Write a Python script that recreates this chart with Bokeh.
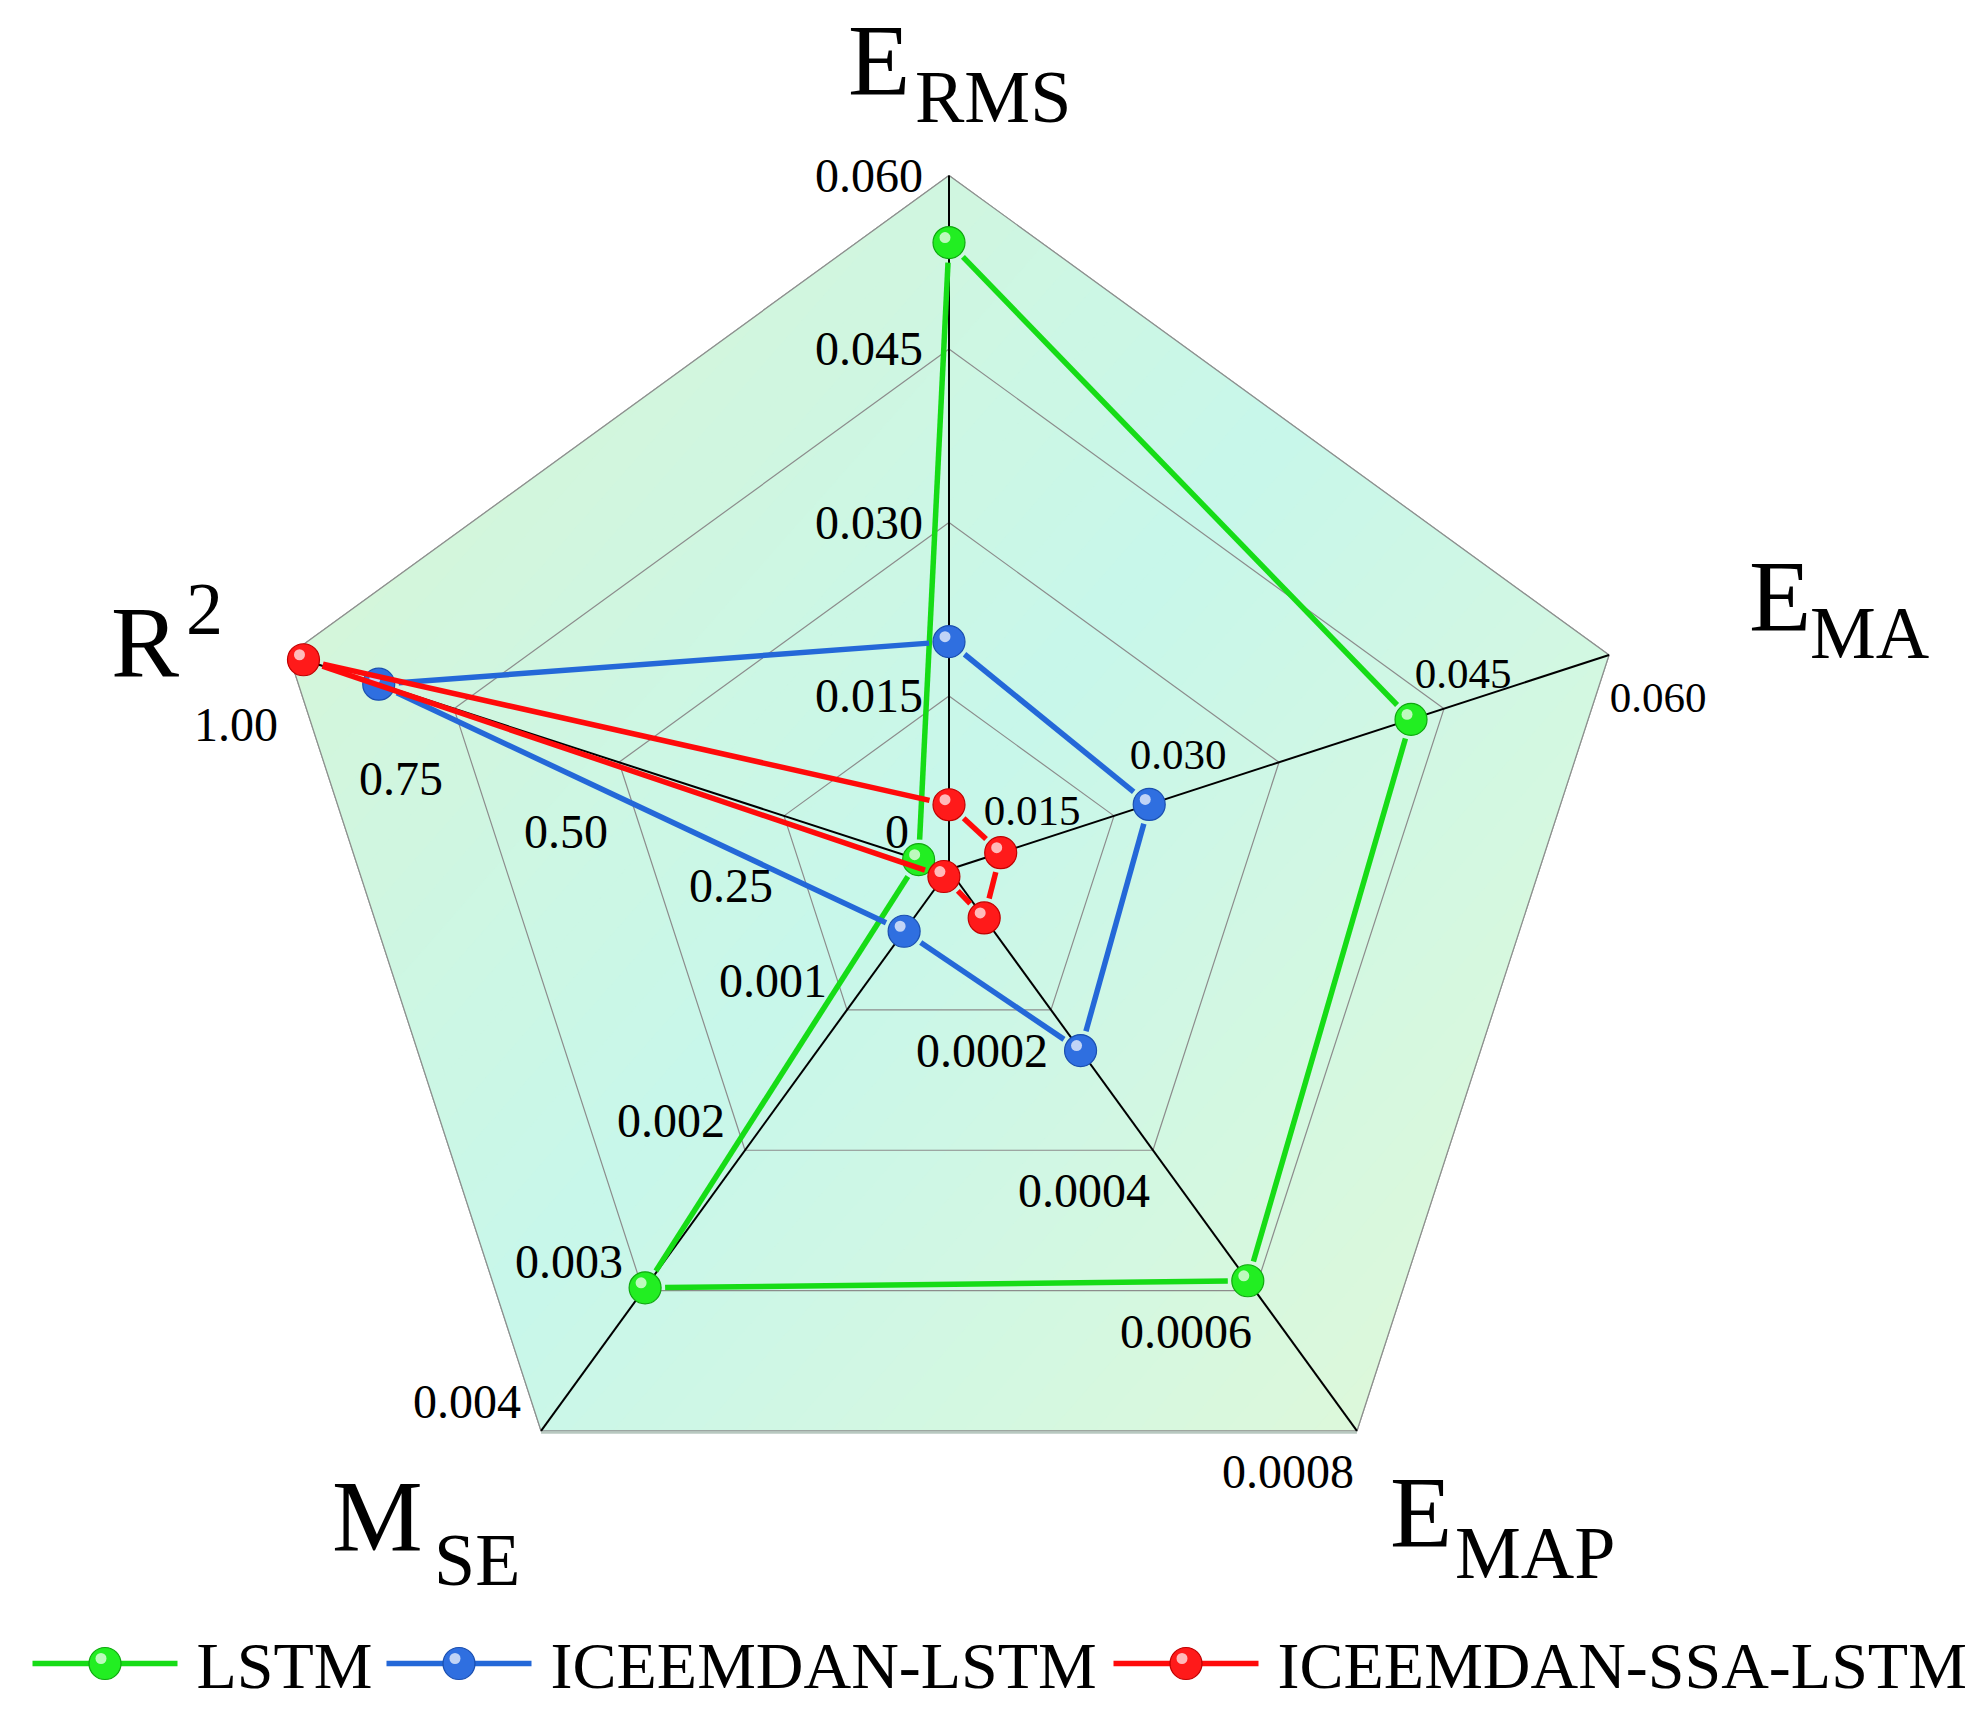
import numpy as np
from bokeh.plotting import figure
from bokeh.models import Range1d
from bokeh.core.properties import value
from bokeh.embed import file_html
from bokeh.resources import INLINE

# ---------------- data ----------------
axis_main = ["E", "E", "E", "M", "R"]
axis_sub = ["RMS", "MA", "MAP", "SE", ""]
axis_sup = ["", "", "", "", "2"]
axis_max = [0.060, 0.060, 0.0008, 0.004, 1.00]
tick_fracs = [0.25, 0.50, 0.75, 1.00]
ticks_erms = ["0.015", "0.030", "0.045", "0.060"]
ticks_ema = ["0.015", "0.030", "0.045", "0.060"]
ticks_emap = ["0.0002", "0.0004", "0.0006", "0.0008"]
ticks_mse = ["0.001", "0.002", "0.003", "0.004"]
ticks_r2 = ["0.25", "0.50", "0.75", "1.00"]
center_label = "0"

series_names = ["LSTM", "ICEEMDAN-LSTM", "ICEEMDAN-SSA-LSTM"]
# order: E_RMS, E_MA, E_MAP, M_SE, R2
lstm = [0.0542, 0.0420, 0.000586, 0.00298, 0.046]
iceemdan_lstm = [0.0197, 0.0182, 0.000258, 0.00044, 0.864]
iceemdan_ssa_lstm = [0.0056, 0.0047, 0.000069, 0.00005, 0.978]
series_values = [lstm, iceemdan_lstm, iceemdan_ssa_lstm]

# ---------------- style / geometry ----------------
W, H = 1967, 1716
CX, CY = 948.5, 869.0
RAD = 694.0
angles = np.deg2rad([90, 18, -54, -126, 162])
colors = ["#16dc16", "#2468d8", "#ff0a0a"]
ball_colors = ["#22ee22", "#2f6fe0", "#ff1a1a"]
ball_edge = ["#0fa80f", "#1a4fb0", "#c00000"]
FONT = value("Liberation Serif")
BALL = 32
LW = 5.5

def pt(frac, k):
    return CX + RAD * frac * np.cos(angles[k]), CY - RAD * frac * np.sin(angles[k])

p = figure(width=W, height=H, output_backend="svg", toolbar_location=None,
           x_range=Range1d(0, W), y_range=Range1d(H, 0),
           x_axis_location=None, y_axis_location=None, min_border=0,
           outline_line_color=None, background_fill_color="white",
           border_fill_color="white")
p.xgrid.visible = False
p.ygrid.visible = False

# background pentagon with a soft diagonal gradient
outer = [pt(1.0, k) for k in range(5)]
p.patch([q[0] for q in outer], [q[1] for q in outer], fill_color="#cdf7e5",
        line_color="#8a8a8a", line_width=1.2)

def clip(poly, a, b, c):
    out = []
    n = len(poly)
    for i in range(n):
        P, Q = poly[i], poly[(i + 1) % n]
        fp = a * P[0] + b * P[1] - c
        fq = a * Q[0] + b * Q[1] - c
        if fp <= 0:
            out.append(P)
        if fp * fq < 0:
            t = fp / (fp - fq)
            out.append((P[0] + t * (Q[0] - P[0]), P[1] + t * (Q[1] - P[1])))
    return out

dvec = np.array([0.75, 0.66])
dvec = dvec / np.linalg.norm(dvec)
proj = [q[0] * dvec[0] + q[1] * dvec[1] for q in outer]
lo, hi = min(proj), max(proj)
nb = 40
c0 = np.array([0xd4, 0xf6, 0xdb]); c1 = np.array([0xc8, 0xf7, 0xea]); c2 = np.array([0xdc, 0xf8, 0xdb])
for i in range(nb):
    s0 = lo + (hi - lo) * i / nb
    s1 = lo + (hi - lo) * (i + 1) / nb
    poly = clip(outer, dvec[0], dvec[1], s1)
    poly = clip(poly, -dvec[0], -dvec[1], -s0)
    if len(poly) < 3:
        continue
    t = (i + 0.5) / nb
    if t < 0.45:
        col = c0 + (c1 - c0) * (t / 0.45)
    else:
        col = c1 + (c2 - c1) * ((t - 0.45) / 0.55)
    hexc = "#%02x%02x%02x" % tuple(int(round(v)) for v in col)
    p.patch([q[0] for q in poly], [q[1] for q in poly], fill_color=hexc,
            line_color=hexc, line_width=1)

# rings
for f in tick_fracs:
    ring = [pt(f, k) for k in range(5)] + [pt(f, 0)]
    p.line([q[0] for q in ring], [q[1] for q in ring], line_color="#8c8c8c",
           line_width=1.2)
# bottom edge shadow
b0, b1 = pt(1.0, 3), pt(1.0, 2)
p.line([b0[0], b1[0]], [b0[1] + 1.5, b1[1] + 1.5], line_color="#b8c8c0", line_width=2.5)
# axes
for k in range(5):
    q = pt(1.0, k)
    p.line([CX, q[0]], [CY, q[1]], line_color="black", line_width=2)

# series
gap = BALL / 2 + 4
for s, vals in enumerate(series_values):
    pts = [pt(vals[k] / axis_max[k], k) for k in range(5)]
    x0, y0, x1, y1 = [], [], [], []
    for i in range(5):
        a = np.array(pts[i]); b = np.array(pts[(i + 1) % 5])
        d = b - a
        L = np.linalg.norm(d)
        if L <= 2 * gap + 2:
            continue
        u = d / L
        a2 = a + u * gap; b2 = b - u * gap
        x0.append(a2[0]); y0.append(a2[1]); x1.append(b2[0]); y1.append(b2[1])
    p.segment(x0, y0, x1, y1, line_color=colors[s], line_width=LW)
    xs = [q[0] for q in pts]; ys = [q[1] for q in pts]
    p.scatter(xs, ys, size=BALL, marker="circle", fill_color=ball_colors[s],
              line_color=ball_edge[s], line_width=1.2)
    p.scatter([x - 4 for x in xs], [y - 5 for y in ys], size=11, marker="circle",
              fill_color="white", fill_alpha=0.7, line_color=None)

# tick labels
def add_labels(k, labels, dx, dy, align, size):
    xs, ys = [], []
    for i, f in enumerate(tick_fracs):
        q = pt(f, k)
        ddx = dx[i] if isinstance(dx, list) else dx
        ddy = dy[i] if isinstance(dy, list) else dy
        xs.append(q[0] + ddx); ys.append(q[1] + ddy)
    p.text(xs, ys, text=labels, text_font=FONT, text_font_size=value(size),
           text_align=align, text_baseline="middle", text_color="black")

add_labels(0, ticks_erms, -26, 0, "right", "48px")
add_labels(1, ticks_ema, [-82, -101, 19, 49], [-5, -7, -35, 43], "center", "43px")
add_labels(2, ticks_emap, -3, 41, "right", "48px")
add_labels(3, ticks_mse, -20, -29, "right", "48px")
add_labels(4, ticks_r2, -53, 70, "center", "48px")
p.text([CX - 52], [CY - 38], text=[center_label], text_font=FONT,
       text_font_size=value("48px"), text_align="center", text_baseline="middle")

# axis titles: (main dx, dy), (sub dx, dy) relative to outer vertex (cap centres)
title_off = [((-101, -115), (-34, -79)),
             ((140, -59), (201, -22)),
             ((33, 82), (98, 122)),
             ((-209, 86), (-107, 129)),
             ((-178, -13), (-103, -46))]
for k in range(5):
    v = pt(1.0, k)
    (mdx, mdy), (sdx, sdy) = title_off[k]
    p.text([v[0] + mdx], [v[1] + mdy], text=[axis_main[k]], text_font=FONT,
           text_font_size=value("102px"), text_align="left",
           text_baseline="middle")
    small = axis_sub[k] or axis_sup[k]
    p.text([v[0] + sdx], [v[1] + sdy], text=[small], text_font=FONT,
           text_font_size=value("74px"), text_align="left",
           text_baseline="middle")

# legend
leg_x = [32, 386, 1113]
leg_len = 145
leg_y = 1663
for s in range(3):
    x0 = leg_x[s]
    p.line([x0, x0 + leg_len], [leg_y, leg_y], line_color=colors[s], line_width=LW)
    xm = x0 + leg_len / 2
    p.scatter([xm], [leg_y], size=BALL, marker="circle", fill_color=ball_colors[s],
              line_color=ball_edge[s], line_width=1.2)
    p.scatter([xm - 4], [leg_y - 5], size=11, marker="circle", fill_color="white",
              fill_alpha=0.7, line_color=None)
    p.text([x0 + leg_len + 19], [leg_y + 2], text=[series_names[s]], text_font=FONT,
           text_font_size=value("66px"), text_align="left",
           text_baseline="middle")

open("out.html", "w").write(file_html(p, INLINE))
